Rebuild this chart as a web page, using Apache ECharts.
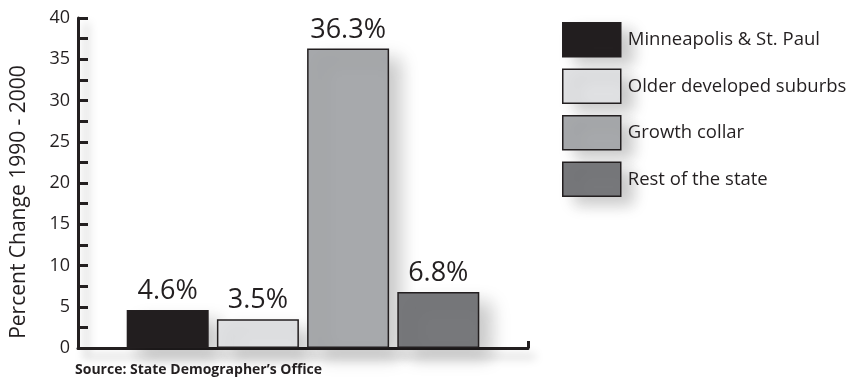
<!DOCTYPE html>
<html><head><meta charset="utf-8">
<script src="https://cdn.jsdelivr.net/npm/echarts@6/dist/echarts.min.js"></script>
<style>html,body{margin:0;padding:0;background:#fff}#c{width:851px;height:387px}</style>
</head><body><div id="c"></div>
<script>
var seriesNames = ["Minneapolis & St. Paul", "Older developed suburbs", "Growth collar", "Rest of the state"];
var seriesValues = [4.6, 3.5, 36.3, 6.8];
var seriesColors = ["#231f20", "#e0e1e3", "#a7a9ac", "#77787b"];
var yTicks = [0, 5, 10, 15, 20, 25, 30, 35, 40];
var yTitle = "Percent Change 1990 - 2000";
var sourceText = "Source: State Demographer\u2019s Office";

var FONT = "Open Sans";
var INK = "#231f20";
var SHADOW = 'rgba(0,0,0,0.22)';
var chart = echarts.init(document.getElementById('c'));
var series = seriesNames.map(function (n, i) {
  return {
    name: n, type: 'bar', data: [seriesValues[i]],
    barWidth: 82, barGap: '10%',
    itemStyle: {
      color: seriesColors[i], borderColor: INK, borderWidth: 1.5,
      shadowColor: SHADOW, shadowBlur: 18, shadowOffsetX: 12, shadowOffsetY: 10
    },
    label: {
      show: true, position: 'top', distance: 5,
      formatter: function (p) { return p.value.toFixed(1) + '%'; },
      fontFamily: FONT, fontSize: 27, color: INK
    }
  };
});
chart.setOption({
  animation: false,
  textStyle: { fontFamily: FONT },
  title: {
    text: sourceText, left: 70, top: 358,
    textStyle: { fontFamily: FONT, fontSize: 14, fontWeight: 'bold', color: INK }
  },
  legend: {
    orient: 'vertical', left: 562, top: 22, padding: 0,
    itemWidth: 58, itemHeight: 34, itemGap: 11, icon: 'rect',
    itemStyle: { borderColor: INK, borderWidth: 1.5, shadowColor: SHADOW, shadowBlur: 16, shadowOffsetX: 12, shadowOffsetY: 8 },
    textStyle: { fontFamily: FONT, fontSize: 18.5, color: INK, padding: [0, 0, 0, 2] },
    data: seriesNames
  },
  grid: { left: 78, right: 323, top: 18, bottom: 39, containLabel: false, outerBoundsMode: 'none' },
  xAxis: {
    type: 'category', data: [''],
    axisLine: { lineStyle: { color: INK, width: 3, shadowColor: 'rgba(0,0,0,0.25)', shadowBlur: 10, shadowOffsetX: 6, shadowOffsetY: 8 } },
    axisTick: { show: true, inside: true, length: 7, lineStyle: { color: INK, width: 3 } },
    axisLabel: { show: false }
  },
  yAxis: {
    type: 'value', min: 0, max: 40, interval: 5,
    name: yTitle, nameLocation: 'middle', nameGap: 48,
    nameTextStyle: { fontFamily: FONT, fontSize: 21, color: INK, padding: [0, 38, 0, 0] },
    axisLine: { show: true, lineStyle: { color: INK, width: 3, shadowColor: 'rgba(0,0,0,0.25)', shadowBlur: 10, shadowOffsetX: 8, shadowOffsetY: 6 } },
    axisTick: { show: true, inside: true, length: 10, lineStyle: { color: INK, width: 3 } },
    minorTick: { show: true, splitNumber: 2, length: 10, lineStyle: { color: INK, width: 3 } },
    splitLine: { show: false },
    axisLabel: {
      fontFamily: FONT, fontSize: 18, color: INK, margin: 8,
      formatter: function (v) { return yTicks.indexOf(v) >= 0 ? String(v) : ''; }
    }
  },
  series: series
});
</script></body></html>
